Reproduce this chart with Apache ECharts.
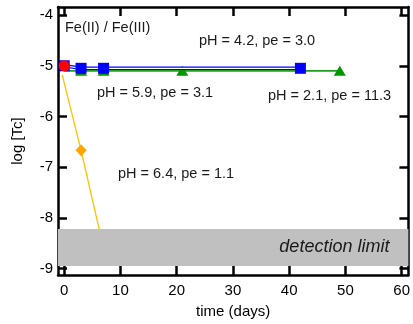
<!DOCTYPE html>
<html>
<head>
<meta charset="utf-8">
<script src="https://cdn.jsdelivr.net/npm/echarts@6/dist/echarts.min.js"></script>
<style>
  html, body { margin: 0; padding: 0; background: #fff; }
  #chart { width: 413px; height: 324px; }
</style>
</head>
<body>
<div id="chart"></div>
<script>
// Tc concentration (log) over time for the Fe(II)/Fe(III) systems
const xTicks = [0, 10, 20, 30, 40, 50, 60];
const yTicks = [-4, -5, -6, -7, -8, -9];

// pH 4.2, pe 3.0 (blue squares)
const daysBlue = [0, 3, 7, 42];
const logTcBlue = [-5.0, -5.05, -5.05, -5.05];

// pH 5.9 / pH 2.1 (green triangles); first point is the unmarked start
const daysGreen = [0, 3, 7, 21, 49];
const logTcGreen = [-5.1, -5.1, -5.1, -5.1, -5.1];

// pH 6.4, pe 1.1 (orange diamonds)
const daysOrange = [-0.35, 3, 7];
const logTcOrange = [-5.18, -6.67, -8.6];

// common starting point (red circle)
const daysRed = [0];
const logTcRed = [-5.0];

// detection limit band in log [Tc]
const detectionLimit = [-8.95, -8.22];

const FONT = '"Liberation Sans", Arial, sans-serif';
const pair = (xs, ys) => xs.map((x, i) => [x, ys[i]]);

const axisLineStyle = { color: '#000', width: 2.5 };
function xAxisDef(pos, withLabels) {
  return {
    type: 'value', position: pos, min: -1.1, max: 61.2,
    axisLine: { onZero: false, lineStyle: axisLineStyle },
    axisTick: { inside: true, length: 9, customValues: xTicks, lineStyle: { color: '#000', width: 2.5 } },
    axisLabel: { show: withLabels, customValues: xTicks, fontSize: 15, color: '#000', fontFamily: FONT, margin: 8 },
    splitLine: { show: false },
    name: withLabels ? 'time (days)' : '', nameLocation: 'middle', nameGap: 29,
    nameTextStyle: { fontSize: 15, color: '#000', fontFamily: FONT }
  };
}
function yAxisDef(pos, withLabels) {
  return {
    type: 'value', position: pos, min: -9.13, max: -3.84,
    axisLine: { onZero: false, lineStyle: axisLineStyle },
    axisTick: { inside: true, length: 9, customValues: yTicks, lineStyle: { color: '#000', width: 2.5 } },
    axisLabel: { show: withLabels, customValues: yTicks, fontSize: 15, color: '#000', fontFamily: FONT, margin: 5 },
    splitLine: { show: false },
    name: withLabels ? 'log [Tc]' : '', nameLocation: 'middle', nameGap: 33,
    nameTextStyle: { fontSize: 15, color: '#000', fontFamily: FONT }
  };
}

const greenData = pair(daysGreen, logTcGreen).map((p, i) =>
  i === 0 ? { value: p, symbol: 'none' } : { value: p });

const chart = echarts.init(document.getElementById('chart'), null, { renderer: 'canvas' });
chart.setOption({
  animation: false,
  backgroundColor: '#fff',
  grid: { left: 58, right: 1.3, top: 7, bottom: 47.3 },
  xAxis: [xAxisDef('bottom', true), xAxisDef('top', false)],
  yAxis: [yAxisDef('left', true), yAxisDef('right', false)],
  series: [
    {
      type: 'line', name: 'green', data: greenData, z: 2,
      symbol: 'triangle', symbolSize: [12, 10],
      lineStyle: { color: '#1e9e1e', width: 1.6 },
      itemStyle: { color: '#009600', opacity: 1 }
    },
    {
      type: 'line', name: 'blue', data: pair(daysBlue, logTcBlue), z: 3,
      symbol: 'none',
      lineStyle: { color: '#0000ff', width: 3.6 }
    },
    {
      type: 'line', name: 'blue-core', data: pair(daysBlue, logTcBlue), z: 3,
      symbol: 'none',
      lineStyle: { color: '#ffffff', width: 1.2 }
    },
    {
      type: 'line', name: 'blue-marks', data: pair(daysBlue, logTcBlue), z: 4,
      symbol: 'rect', symbolSize: 11,
      lineStyle: { width: 0, opacity: 0 },
      itemStyle: { color: '#0000ff', opacity: 1 }
    },
    {
      type: 'line', name: 'orange', z: 2,
      data: pair(daysOrange, logTcOrange).map((p, i) =>
        i === 0 ? { value: p, symbol: 'none' } : { value: p }),
      symbol: 'diamond', symbolSize: [11, 12],
      lineStyle: { color: '#ffc000', width: 1.3 },
      itemStyle: { color: '#ffa500', opacity: 1 }
    },
    {
      type: 'scatter', name: 'start', data: pair(daysRed, logTcRed), z: 5,
      symbol: 'circle', symbolSize: 11,
      itemStyle: { color: '#ff0000', opacity: 1 }
    },
    {
      type: 'line', name: 'limit', data: [], z: 6,
      markArea: {
        z: 6, silent: true,
        itemStyle: { color: '#c0c0c0', opacity: 1 },
        label: {
          show: true, position: 'insideRight', distance: 19,
          fontSize: 18, fontStyle: 'italic', color: '#1a1a1a', fontFamily: FONT
        },
        data: [[
          { name: 'detection limit', xAxis: 'min', yAxis: detectionLimit[0] },
          { xAxis: 'max', yAxis: detectionLimit[1] }
        ]]
      }
    }
  ],
  graphic: [
    { type: 'text', left: 65, top: 20, style: { text: 'Fe(II) / Fe(III)', fontSize: 14.5, fill: '#1a1a1a', fontFamily: FONT } },
    { type: 'text', left: 199, top: 33, style: { text: 'pH = 4.2, pe = 3.0', fontSize: 14.5, fill: '#1a1a1a', fontFamily: FONT } },
    { type: 'text', left: 97, top: 85, style: { text: 'pH = 5.9, pe = 3.1', fontSize: 14.5, fill: '#1a1a1a', fontFamily: FONT } },
    { type: 'text', left: 268, top: 88, style: { text: 'pH = 2.1, pe = 11.3', fontSize: 14.5, fill: '#1a1a1a', fontFamily: FONT } },
    { type: 'text', left: 118, top: 166, style: { text: 'pH = 6.4, pe = 1.1', fontSize: 14.5, fill: '#1a1a1a', fontFamily: FONT } }
  ]
});
</script>
</body>
</html>
